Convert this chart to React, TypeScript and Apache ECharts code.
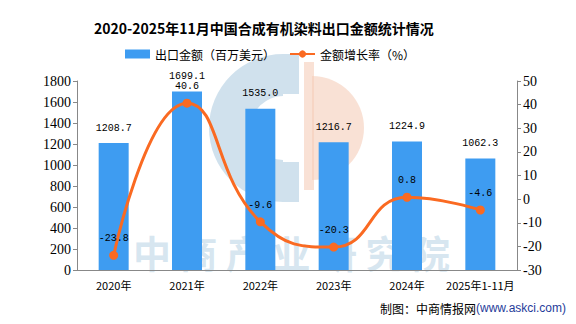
import React, { useEffect, useRef } from "react";
import * as echarts from "echarts";

const categories = ["2020年", "2021年", "2022年", "2023年", "2024年", "2025年1-11月"];
const exportValues = [1208.7, 1699.1, 1535.0, 1216.7, 1224.9, 1062.3];
const growthRates = [-23.8, 40.6, -9.6, -20.3, 0.8, -4.6];
const titleText = "2020-2025年11月中国合成有机染料出口金额统计情况";
const barName = "出口金额（百万美元）";
const lineName = "金额增长率（%）";
const watermarkChars = ["中", "商", "产", "业", "研", "究", "院"];

export default function App() {
  const ref = useRef<HTMLDivElement>(null);
  useEffect(() => {
    if (!ref.current) return;
    const chart = echarts.init(ref.current, null, { renderer: "svg" });
    const serif = "'Liberation Serif', 'DejaVu Serif', serif";
    const mono = "'Liberation Mono', 'DejaVu Sans Mono', monospace";
    const cjk = "'Noto Sans CJK SC', sans-serif";
    const watermark = watermarkChars.map((ch, i) => ({
      type: "text",
      z: -1,
      silent: true,
      left: 133 + i * 46.5,
      top: 232,
      style: {
        text: ch,
        fontSize: 38,
        fontWeight: "bold",
        fontFamily: cjk,
        fill: "rgba(175,205,225,0.5)",
      },
    }));
    chart.setOption({
      animation: false,
      backgroundColor: "#fff",
      title: {
        text: titleText,
        left: 89,
        top: 16,
        textStyle: { fontSize: 14, fontWeight: "bold", color: "#000", fontFamily: cjk },
      },
      legend: {
        left: 120,
        top: 43,
        itemWidth: 25,
        itemHeight: 9,
        itemGap: 14,
        textStyle: { fontSize: 12, color: "#000", fontFamily: cjk },
        data: [
          { name: barName, icon: "rect" },
          { name: lineName },
        ],
      },
      grid: { left: 77, right: 59, top: 81, bottom: 54 },
      xAxis: {
        type: "category",
        data: categories,
        axisLine: { lineStyle: { color: "#888" } },
        axisTick: { lineStyle: { color: "#888" }, length: 4 },
        axisLabel: { color: "#000", fontSize: 11, fontFamily: cjk, margin: 9, interval: 0 },
      },
      yAxis: [
        {
          type: "value",
          min: 0,
          max: 1800,
          interval: 200,
          splitLine: { show: false },
          axisLine: { show: true, lineStyle: { color: "#888" } },
          axisTick: { show: true, lineStyle: { color: "#888" }, length: 4 },
          axisLabel: {
            color: "#000",
            fontSize: 14,
            fontFamily: serif,
            margin: 6,
            formatter: (v: number) => String(v),
          },
        },
        {
          type: "value",
          min: -30,
          max: 50,
          interval: 10,
          splitLine: { show: false },
          axisLine: { show: true, lineStyle: { color: "#888" } },
          axisTick: { show: true, lineStyle: { color: "#888" }, length: 4 },
          axisLabel: { color: "#000", fontSize: 14, fontFamily: serif, margin: 6 },
        },
      ],
      graphic: [
        {
          type: "sector",
          z: -1,
          silent: true,
          shape: { cx: 283, cy: 128, r: 74, r0: 32, startAngle: Math.PI / 2, endAngle: (3 * Math.PI) / 2 },
          style: { fill: "rgba(170,200,222,0.55)" },
        },
        {
          type: "rect",
          z: -1,
          silent: true,
          shape: { x: 283, y: 54, width: 16, height: 40 },
          style: { fill: "rgba(170,200,222,0.55)" },
        },
        {
          type: "rect",
          z: -1,
          silent: true,
          shape: { x: 283, y: 162, width: 16, height: 40 },
          style: { fill: "rgba(170,200,222,0.55)" },
        },
        {
          type: "sector",
          z: -1,
          silent: true,
          shape: { cx: 312, cy: 128, r: 52, r0: 0, startAngle: -Math.PI / 2, endAngle: Math.PI / 2 },
          style: { fill: "rgba(245,205,185,0.6)" },
        },
        {
          type: "rect",
          z: -1,
          silent: true,
          shape: { x: 304, y: 62, width: 10, height: 128 },
          style: { fill: "rgba(245,205,185,0.6)" },
        },
        ...watermark,
        {
          type: "text",
          right: 10,
          top: 302,
          style: {
            text: "{a|制图：中商情报网}{b|(www.askci.com)}",
            rich: {
              a: { fontSize: 12, fill: "#000", fontFamily: cjk },
              b: { fontSize: 12, fill: "#1f3c9a", fontFamily: "'Liberation Sans', sans-serif" },
            },
          },
        },
      ],
      series: [
        {
          name: barName,
          type: "bar",
          data: exportValues,
          barWidth: 30,
          itemStyle: { color: "#3e9cf1" },
          label: {
            show: true,
            position: "top",
            distance: 10,
            color: "#000",
            fontSize: 10,
            fontFamily: mono,
            formatter: (p: any) => Number(p.value).toFixed(1),
          },
        },
        {
          name: lineName,
          type: "line",
          yAxisIndex: 1,
          data: growthRates,
          smooth: true,
          symbol: "circle",
          symbolSize: 9,
          lineStyle: { color: "#fa6a22", width: 3 },
          itemStyle: { color: "#fa6a22" },
          label: {
            show: true,
            position: "top",
            distance: 7,
            color: "#000",
            fontSize: 10,
            fontFamily: mono,
            formatter: (p: any) => Number(p.value).toFixed(1),
          },
        },
      ],
    });
    return () => chart.dispose();
  }, []);
  return (
    <div
      style={{
        position: "absolute",
        left: 0,
        top: 0,
        width: 576,
        height: 324,
        border: "1px solid #888",
        boxSizing: "border-box",
        background: "#fff",
      }}
    >
      <div ref={ref} style={{ position: "absolute", left: -1, top: -1, width: 576, height: 324 }} />
    </div>
  );
}
